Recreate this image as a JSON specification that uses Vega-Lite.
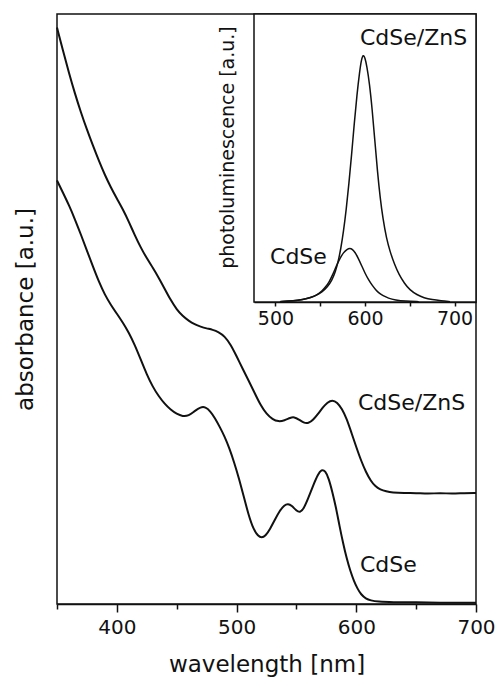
{
  "$schema": "https://vega.github.io/schema/vega-lite/v6.json",
  "width": 419,
  "height": 590,
  "autosize": {"type": "none"},
  "padding": {"left": 57, "top": 14, "right": 20, "bottom": 77},
  "background": "white",
  "config": {
    "font": "DejaVu Sans",
    "view": {"stroke": "#111", "strokeWidth": 1.5},
    "axis": {
      "grid": false,
      "domainColor": "#111",
      "domainWidth": 1.5,
      "tickColor": "#111",
      "tickWidth": 1.5,
      "labelColor": "#111",
      "titleColor": "#111",
      "titleFontWeight": "normal",
      "labelFont": "DejaVu Sans",
      "titleFont": "DejaVu Sans"
    },
    "text": {"font": "DejaVu Sans"}
  },
  "datasets": {
    "absorbance": [
      {"sample": "CdSe/ZnS", "wavelength": 350, "absorbance": 0.977},
      {"sample": "CdSe/ZnS", "wavelength": 355, "absorbance": 0.938},
      {"sample": "CdSe/ZnS", "wavelength": 360, "absorbance": 0.900},
      {"sample": "CdSe/ZnS", "wavelength": 365, "absorbance": 0.865},
      {"sample": "CdSe/ZnS", "wavelength": 370, "absorbance": 0.833},
      {"sample": "CdSe/ZnS", "wavelength": 375, "absorbance": 0.804},
      {"sample": "CdSe/ZnS", "wavelength": 380, "absorbance": 0.777},
      {"sample": "CdSe/ZnS", "wavelength": 385, "absorbance": 0.751},
      {"sample": "CdSe/ZnS", "wavelength": 390, "absorbance": 0.727},
      {"sample": "CdSe/ZnS", "wavelength": 395, "absorbance": 0.706},
      {"sample": "CdSe/ZnS", "wavelength": 400, "absorbance": 0.687},
      {"sample": "CdSe/ZnS", "wavelength": 405, "absorbance": 0.669},
      {"sample": "CdSe/ZnS", "wavelength": 410, "absorbance": 0.648},
      {"sample": "CdSe/ZnS", "wavelength": 415, "absorbance": 0.625},
      {"sample": "CdSe/ZnS", "wavelength": 420, "absorbance": 0.604},
      {"sample": "CdSe/ZnS", "wavelength": 425, "absorbance": 0.586},
      {"sample": "CdSe/ZnS", "wavelength": 430, "absorbance": 0.570},
      {"sample": "CdSe/ZnS", "wavelength": 435, "absorbance": 0.553},
      {"sample": "CdSe/ZnS", "wavelength": 440, "absorbance": 0.534},
      {"sample": "CdSe/ZnS", "wavelength": 445, "absorbance": 0.515},
      {"sample": "CdSe/ZnS", "wavelength": 450, "absorbance": 0.499},
      {"sample": "CdSe/ZnS", "wavelength": 455, "absorbance": 0.488},
      {"sample": "CdSe/ZnS", "wavelength": 460, "absorbance": 0.480},
      {"sample": "CdSe/ZnS", "wavelength": 465, "absorbance": 0.474},
      {"sample": "CdSe/ZnS", "wavelength": 470, "absorbance": 0.470},
      {"sample": "CdSe/ZnS", "wavelength": 475, "absorbance": 0.467},
      {"sample": "CdSe/ZnS", "wavelength": 480, "absorbance": 0.465},
      {"sample": "CdSe/ZnS", "wavelength": 485, "absorbance": 0.461},
      {"sample": "CdSe/ZnS", "wavelength": 490, "absorbance": 0.454},
      {"sample": "CdSe/ZnS", "wavelength": 495, "absorbance": 0.440},
      {"sample": "CdSe/ZnS", "wavelength": 500, "absorbance": 0.420},
      {"sample": "CdSe/ZnS", "wavelength": 505, "absorbance": 0.399},
      {"sample": "CdSe/ZnS", "wavelength": 510, "absorbance": 0.379},
      {"sample": "CdSe/ZnS", "wavelength": 515, "absorbance": 0.358},
      {"sample": "CdSe/ZnS", "wavelength": 520, "absorbance": 0.337},
      {"sample": "CdSe/ZnS", "wavelength": 525, "absorbance": 0.322},
      {"sample": "CdSe/ZnS", "wavelength": 530, "absorbance": 0.313},
      {"sample": "CdSe/ZnS", "wavelength": 535, "absorbance": 0.309},
      {"sample": "CdSe/ZnS", "wavelength": 540, "absorbance": 0.311},
      {"sample": "CdSe/ZnS", "wavelength": 545, "absorbance": 0.316},
      {"sample": "CdSe/ZnS", "wavelength": 548, "absorbance": 0.317},
      {"sample": "CdSe/ZnS", "wavelength": 552, "absorbance": 0.313},
      {"sample": "CdSe/ZnS", "wavelength": 556, "absorbance": 0.307},
      {"sample": "CdSe/ZnS", "wavelength": 560, "absorbance": 0.306},
      {"sample": "CdSe/ZnS", "wavelength": 564, "absorbance": 0.312},
      {"sample": "CdSe/ZnS", "wavelength": 568, "absorbance": 0.322},
      {"sample": "CdSe/ZnS", "wavelength": 572, "absorbance": 0.333},
      {"sample": "CdSe/ZnS", "wavelength": 576, "absorbance": 0.342},
      {"sample": "CdSe/ZnS", "wavelength": 580, "absorbance": 0.346},
      {"sample": "CdSe/ZnS", "wavelength": 584, "absorbance": 0.342},
      {"sample": "CdSe/ZnS", "wavelength": 588, "absorbance": 0.331},
      {"sample": "CdSe/ZnS", "wavelength": 592, "absorbance": 0.314},
      {"sample": "CdSe/ZnS", "wavelength": 596, "absorbance": 0.290},
      {"sample": "CdSe/ZnS", "wavelength": 600, "absorbance": 0.266},
      {"sample": "CdSe/ZnS", "wavelength": 604, "absorbance": 0.243},
      {"sample": "CdSe/ZnS", "wavelength": 608, "absorbance": 0.224},
      {"sample": "CdSe/ZnS", "wavelength": 612, "absorbance": 0.209},
      {"sample": "CdSe/ZnS", "wavelength": 616, "absorbance": 0.199},
      {"sample": "CdSe/ZnS", "wavelength": 620, "absorbance": 0.194},
      {"sample": "CdSe/ZnS", "wavelength": 625, "absorbance": 0.191},
      {"sample": "CdSe/ZnS", "wavelength": 630, "absorbance": 0.189},
      {"sample": "CdSe/ZnS", "wavelength": 640, "absorbance": 0.188},
      {"sample": "CdSe/ZnS", "wavelength": 650, "absorbance": 0.188},
      {"sample": "CdSe/ZnS", "wavelength": 660, "absorbance": 0.187},
      {"sample": "CdSe/ZnS", "wavelength": 670, "absorbance": 0.188},
      {"sample": "CdSe/ZnS", "wavelength": 680, "absorbance": 0.187},
      {"sample": "CdSe/ZnS", "wavelength": 690, "absorbance": 0.188},
      {"sample": "CdSe/ZnS", "wavelength": 700, "absorbance": 0.188},
      {"sample": "CdSe", "wavelength": 350, "absorbance": 0.718},
      {"sample": "CdSe", "wavelength": 355, "absorbance": 0.697},
      {"sample": "CdSe", "wavelength": 360, "absorbance": 0.676},
      {"sample": "CdSe", "wavelength": 365, "absorbance": 0.652},
      {"sample": "CdSe", "wavelength": 370, "absorbance": 0.626},
      {"sample": "CdSe", "wavelength": 375, "absorbance": 0.599},
      {"sample": "CdSe", "wavelength": 380, "absorbance": 0.572},
      {"sample": "CdSe", "wavelength": 385, "absorbance": 0.546},
      {"sample": "CdSe", "wavelength": 390, "absorbance": 0.524},
      {"sample": "CdSe", "wavelength": 395, "absorbance": 0.507},
      {"sample": "CdSe", "wavelength": 400, "absorbance": 0.492},
      {"sample": "CdSe", "wavelength": 405, "absorbance": 0.477},
      {"sample": "CdSe", "wavelength": 410, "absorbance": 0.460},
      {"sample": "CdSe", "wavelength": 415, "absorbance": 0.439},
      {"sample": "CdSe", "wavelength": 420, "absorbance": 0.414},
      {"sample": "CdSe", "wavelength": 425, "absorbance": 0.389},
      {"sample": "CdSe", "wavelength": 430, "absorbance": 0.368},
      {"sample": "CdSe", "wavelength": 435, "absorbance": 0.352},
      {"sample": "CdSe", "wavelength": 440, "absorbance": 0.339},
      {"sample": "CdSe", "wavelength": 445, "absorbance": 0.329},
      {"sample": "CdSe", "wavelength": 450, "absorbance": 0.322},
      {"sample": "CdSe", "wavelength": 455, "absorbance": 0.318},
      {"sample": "CdSe", "wavelength": 460, "absorbance": 0.319},
      {"sample": "CdSe", "wavelength": 465, "absorbance": 0.327},
      {"sample": "CdSe", "wavelength": 470, "absorbance": 0.334},
      {"sample": "CdSe", "wavelength": 474, "absorbance": 0.334},
      {"sample": "CdSe", "wavelength": 478, "absorbance": 0.327},
      {"sample": "CdSe", "wavelength": 482, "absorbance": 0.315},
      {"sample": "CdSe", "wavelength": 486, "absorbance": 0.300},
      {"sample": "CdSe", "wavelength": 490, "absorbance": 0.284},
      {"sample": "CdSe", "wavelength": 494, "absorbance": 0.264},
      {"sample": "CdSe", "wavelength": 498, "absorbance": 0.240},
      {"sample": "CdSe", "wavelength": 502, "absorbance": 0.213},
      {"sample": "CdSe", "wavelength": 506, "absorbance": 0.182},
      {"sample": "CdSe", "wavelength": 510, "absorbance": 0.151},
      {"sample": "CdSe", "wavelength": 514, "absorbance": 0.127},
      {"sample": "CdSe", "wavelength": 518, "absorbance": 0.115},
      {"sample": "CdSe", "wavelength": 521, "absorbance": 0.112},
      {"sample": "CdSe", "wavelength": 524, "absorbance": 0.115},
      {"sample": "CdSe", "wavelength": 528, "absorbance": 0.127},
      {"sample": "CdSe", "wavelength": 532, "absorbance": 0.143},
      {"sample": "CdSe", "wavelength": 536, "absorbance": 0.158},
      {"sample": "CdSe", "wavelength": 540, "absorbance": 0.168},
      {"sample": "CdSe", "wavelength": 543, "absorbance": 0.170},
      {"sample": "CdSe", "wavelength": 546, "absorbance": 0.167},
      {"sample": "CdSe", "wavelength": 550, "absorbance": 0.158},
      {"sample": "CdSe", "wavelength": 553, "absorbance": 0.155},
      {"sample": "CdSe", "wavelength": 556, "absorbance": 0.161},
      {"sample": "CdSe", "wavelength": 560, "absorbance": 0.180},
      {"sample": "CdSe", "wavelength": 564, "absorbance": 0.201},
      {"sample": "CdSe", "wavelength": 568, "absorbance": 0.220},
      {"sample": "CdSe", "wavelength": 571, "absorbance": 0.228},
      {"sample": "CdSe", "wavelength": 574, "absorbance": 0.226},
      {"sample": "CdSe", "wavelength": 577, "absorbance": 0.213},
      {"sample": "CdSe", "wavelength": 580, "absorbance": 0.190},
      {"sample": "CdSe", "wavelength": 583, "absorbance": 0.164},
      {"sample": "CdSe", "wavelength": 586, "absorbance": 0.132},
      {"sample": "CdSe", "wavelength": 589, "absorbance": 0.103},
      {"sample": "CdSe", "wavelength": 592, "absorbance": 0.077},
      {"sample": "CdSe", "wavelength": 595, "absorbance": 0.056},
      {"sample": "CdSe", "wavelength": 598, "absorbance": 0.039},
      {"sample": "CdSe", "wavelength": 601, "absorbance": 0.026},
      {"sample": "CdSe", "wavelength": 604, "absorbance": 0.016},
      {"sample": "CdSe", "wavelength": 608, "absorbance": 0.009},
      {"sample": "CdSe", "wavelength": 612, "absorbance": 0.006},
      {"sample": "CdSe", "wavelength": 618, "absorbance": 0.004},
      {"sample": "CdSe", "wavelength": 630, "absorbance": 0.003},
      {"sample": "CdSe", "wavelength": 650, "absorbance": 0.003},
      {"sample": "CdSe", "wavelength": 670, "absorbance": 0.002},
      {"sample": "CdSe", "wavelength": 690, "absorbance": 0.002},
      {"sample": "CdSe", "wavelength": 700, "absorbance": 0.002}
    ],
    "absLabels": [
      {"label": "CdSe/ZnS", "wavelength": 601.4, "absorbance": 0.341},
      {"label": "CdSe", "wavelength": 603.1, "absorbance": 0.066}
    ],
    "pl": [
      {"sample": "CdSe/ZnS", "wavelength": 505, "intensity": 0.001},
      {"sample": "CdSe/ZnS", "wavelength": 515, "intensity": 0.003},
      {"sample": "CdSe/ZnS", "wavelength": 525, "intensity": 0.006},
      {"sample": "CdSe/ZnS", "wavelength": 535, "intensity": 0.011},
      {"sample": "CdSe/ZnS", "wavelength": 545, "intensity": 0.022},
      {"sample": "CdSe/ZnS", "wavelength": 552, "intensity": 0.034},
      {"sample": "CdSe/ZnS", "wavelength": 558, "intensity": 0.052},
      {"sample": "CdSe/ZnS", "wavelength": 563, "intensity": 0.075},
      {"sample": "CdSe/ZnS", "wavelength": 567, "intensity": 0.105},
      {"sample": "CdSe/ZnS", "wavelength": 570, "intensity": 0.140},
      {"sample": "CdSe/ZnS", "wavelength": 573, "intensity": 0.185},
      {"sample": "CdSe/ZnS", "wavelength": 576, "intensity": 0.245},
      {"sample": "CdSe/ZnS", "wavelength": 579, "intensity": 0.320},
      {"sample": "CdSe/ZnS", "wavelength": 582, "intensity": 0.410},
      {"sample": "CdSe/ZnS", "wavelength": 585, "intensity": 0.510},
      {"sample": "CdSe/ZnS", "wavelength": 588, "intensity": 0.620},
      {"sample": "CdSe/ZnS", "wavelength": 591, "intensity": 0.720},
      {"sample": "CdSe/ZnS", "wavelength": 594, "intensity": 0.800},
      {"sample": "CdSe/ZnS", "wavelength": 596, "intensity": 0.842},
      {"sample": "CdSe/ZnS", "wavelength": 598, "intensity": 0.860},
      {"sample": "CdSe/ZnS", "wavelength": 600, "intensity": 0.848},
      {"sample": "CdSe/ZnS", "wavelength": 602, "intensity": 0.820},
      {"sample": "CdSe/ZnS", "wavelength": 605, "intensity": 0.760},
      {"sample": "CdSe/ZnS", "wavelength": 608, "intensity": 0.670},
      {"sample": "CdSe/ZnS", "wavelength": 611, "intensity": 0.560},
      {"sample": "CdSe/ZnS", "wavelength": 614, "intensity": 0.450},
      {"sample": "CdSe/ZnS", "wavelength": 617, "intensity": 0.360},
      {"sample": "CdSe/ZnS", "wavelength": 620, "intensity": 0.290},
      {"sample": "CdSe/ZnS", "wavelength": 624, "intensity": 0.220},
      {"sample": "CdSe/ZnS", "wavelength": 628, "intensity": 0.175},
      {"sample": "CdSe/ZnS", "wavelength": 633, "intensity": 0.130},
      {"sample": "CdSe/ZnS", "wavelength": 638, "intensity": 0.095},
      {"sample": "CdSe/ZnS", "wavelength": 644, "intensity": 0.065},
      {"sample": "CdSe/ZnS", "wavelength": 650, "intensity": 0.042},
      {"sample": "CdSe/ZnS", "wavelength": 658, "intensity": 0.025},
      {"sample": "CdSe/ZnS", "wavelength": 666, "intensity": 0.014},
      {"sample": "CdSe/ZnS", "wavelength": 675, "intensity": 0.008},
      {"sample": "CdSe/ZnS", "wavelength": 685, "intensity": 0.004},
      {"sample": "CdSe/ZnS", "wavelength": 695, "intensity": 0.001},
      {"sample": "CdSe", "wavelength": 505, "intensity": 0.001},
      {"sample": "CdSe", "wavelength": 520, "intensity": 0.004},
      {"sample": "CdSe", "wavelength": 530, "intensity": 0.008},
      {"sample": "CdSe", "wavelength": 540, "intensity": 0.015},
      {"sample": "CdSe", "wavelength": 546, "intensity": 0.024},
      {"sample": "CdSe", "wavelength": 552, "intensity": 0.038},
      {"sample": "CdSe", "wavelength": 556, "intensity": 0.052},
      {"sample": "CdSe", "wavelength": 560, "intensity": 0.070},
      {"sample": "CdSe", "wavelength": 564, "intensity": 0.095},
      {"sample": "CdSe", "wavelength": 568, "intensity": 0.125},
      {"sample": "CdSe", "wavelength": 572, "intensity": 0.152},
      {"sample": "CdSe", "wavelength": 576, "intensity": 0.172},
      {"sample": "CdSe", "wavelength": 580, "intensity": 0.183},
      {"sample": "CdSe", "wavelength": 583, "intensity": 0.187},
      {"sample": "CdSe", "wavelength": 586, "intensity": 0.183},
      {"sample": "CdSe", "wavelength": 589, "intensity": 0.172},
      {"sample": "CdSe", "wavelength": 592, "intensity": 0.155},
      {"sample": "CdSe", "wavelength": 596, "intensity": 0.128},
      {"sample": "CdSe", "wavelength": 600, "intensity": 0.100},
      {"sample": "CdSe", "wavelength": 604, "intensity": 0.077},
      {"sample": "CdSe", "wavelength": 608, "intensity": 0.058},
      {"sample": "CdSe", "wavelength": 612, "intensity": 0.042},
      {"sample": "CdSe", "wavelength": 616, "intensity": 0.030},
      {"sample": "CdSe", "wavelength": 620, "intensity": 0.022},
      {"sample": "CdSe", "wavelength": 626, "intensity": 0.013},
      {"sample": "CdSe", "wavelength": 634, "intensity": 0.007},
      {"sample": "CdSe", "wavelength": 645, "intensity": 0.003},
      {"sample": "CdSe", "wavelength": 660, "intensity": 0.001}
    ],
    "plLabels": [
      {"label": "CdSe/ZnS", "wavelength": 594.4, "intensity": 0.918},
      {"label": "CdSe", "wavelength": 493.9, "intensity": 0.157}
    ],
    "insetFrame": [
      {"from": 476, "to": 724, "low": 0, "high": 1}
    ]
  },
  "layer": [
    {
      "layer": [
        {
          "data": {"name": "absorbance"},
          "mark": {"type": "line", "color": "#111", "strokeWidth": 2, "interpolate": "basis"},
          "encoding": {
            "x": {
              "field": "wavelength",
              "type": "quantitative",
              "scale": {"domain": [350, 700], "nice": false, "zero": false},
              "axis": {
                "title": "wavelength [nm]",
                "values": [350, 400, 450, 500, 550, 600, 650, 700],
                "labelExpr": "datum.value % 100 === 0 ? datum.label : ''",
                "tickSize": {"condition": {"test": "datum.value % 100 === 0", "value": 8}, "value": 5},
                "labelFontSize": 20,
                "labelPadding": 5,
                "labelFlush": false,
                "labelOverlap": false,
                "titleFontSize": 23,
                "titlePadding": 16
              }
            },
            "y": {
              "field": "absorbance",
              "type": "quantitative",
              "scale": {"domain": [0, 1], "nice": false},
              "axis": {
                "title": "absorbance [a.u.]",
                "labels": false,
                "ticks": false,
                "domain": false,
                "titleFontSize": 23,
                "titlePadding": 20
              }
            },
            "detail": {"field": "sample"}
          }
        },
        {
          "data": {"name": "absLabels"},
          "mark": {"type": "text", "align": "left", "baseline": "middle", "fontSize": 22, "color": "#111"},
          "encoding": {
            "x": {"field": "wavelength", "type": "quantitative"},
            "y": {"field": "absorbance", "type": "quantitative"},
            "text": {"field": "label"}
          }
        }
      ]
    },
    {
      "layer": [
        {
          "data": {"name": "insetFrame"},
          "mark": {"type": "rect", "fill": "white", "stroke": "#111", "strokeWidth": 1.5},
          "encoding": {
            "x": {
              "field": "from",
              "type": "quantitative",
              "scale": {"domain": [476, 724], "range": [197, 419], "nice": false, "zero": false},
              "axis": {
                "orient": "bottom",
                "offset": -302,
                "title": null,
                "values": [500, 550, 600, 650, 700],
                "labelExpr": "datum.value % 100 === 0 ? datum.label : ''",
                "tickSize": 4,
                "labelFontSize": 19,
                "labelPadding": 3,
                "labelFlush": false,
                "labelOverlap": false
              }
            },
            "x2": {"field": "to"},
            "y": {
              "field": "low",
              "type": "quantitative",
              "scale": {"domain": [0, 1], "range": [288, 0], "nice": false},
              "axis": {
                "orient": "left",
                "offset": -197,
                "title": "photoluminescence [a.u.]",
                "labels": false,
                "ticks": false,
                "domain": false,
                "titleFontSize": 19,
                "titlePadding": 17,
                "titleY": 133
              }
            },
            "y2": {"field": "high"}
          }
        },
        {
          "data": {"name": "pl"},
          "mark": {"type": "line", "color": "#111", "strokeWidth": 1.5, "interpolate": "basis"},
          "encoding": {
            "x": {"field": "wavelength", "type": "quantitative"},
            "y": {"field": "intensity", "type": "quantitative"},
            "detail": {"field": "sample"}
          }
        },
        {
          "data": {"name": "plLabels"},
          "mark": {"type": "text", "align": "left", "baseline": "middle", "fontSize": 22, "color": "#111"},
          "encoding": {
            "x": {"field": "wavelength", "type": "quantitative"},
            "y": {"field": "intensity", "type": "quantitative"},
            "text": {"field": "label"}
          }
        }
      ]
    }
  ],
  "resolve": {
    "scale": {"x": "independent", "y": "independent"},
    "axis": {"x": "independent", "y": "independent"}
  }
}
